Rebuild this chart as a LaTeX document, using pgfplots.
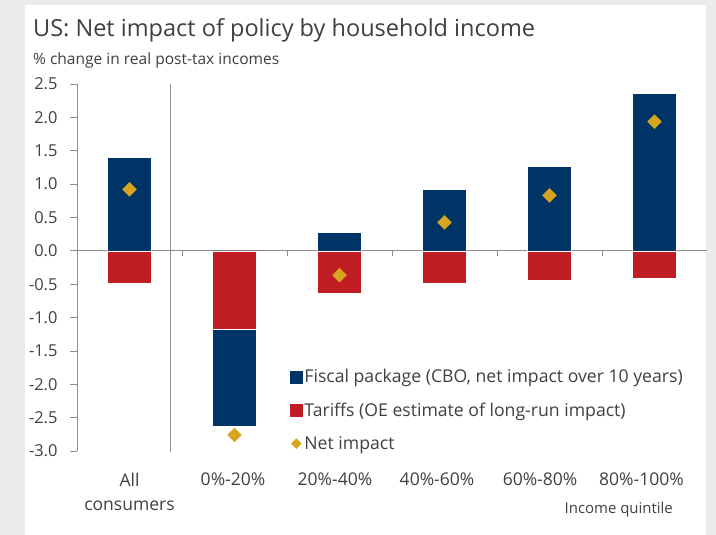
\documentclass[border=0pt]{standalone}
\usepackage{pgfplots}
\pgfplotsset{compat=1.18}
\usepackage{fontspec}
\setmainfont{Open Sans}
\definecolor{navy}{RGB}{0,51,102}
\definecolor{tred}{RGB}{192,28,36}
\definecolor{gold}{RGB}{214,164,30}
\definecolor{txt}{RGB}{64,64,64}
\definecolor{axgray}{RGB}{140,140,140}
\definecolor{bggray}{RGB}{235,235,235}
\begin{document}
\begin{tikzpicture}[x=1bp,y=1bp]
\fill[bggray] (0,0) rectangle (716,535);
\fill[white] (25,0) rectangle (706,530);
\node[anchor=base west, inner sep=0, text=txt, font=\fontsize{23.6}{28}\selectfont] at (33,498.3) {US: Net impact of policy by household income};
\node[anchor=base west, inner sep=0, text=txt, font=\fontsize{15.6}{18}\selectfont] at (33,470) {\% change in real post-tax incomes};
\begin{axis}[
  at={(77bp,84bp)}, anchor=south west,
  scale only axis, width=630bp, height=367bp,
  xmin=-0.5, xmax=5.5, ymin=-3, ymax=2.5,
  axis y line*=left, axis x line*=bottom,
  x axis line style={draw=none},
  y axis line style={axgray, line width=0.8pt},
  ytick={-3,-2.5,-2,-1.5,-1,-0.5,0,0.5,1,1.5,2,2.5},
  yticklabels={-3.0,-2.5,-2.0,-1.5,-1.0,-0.5,0.0,0.5,1.0,1.5,2.0,2.5},
  tick align=outside,
  major tick length=7bp,
  ytick style={axgray, line width=0.8pt},
  xtick={0,0.986,1.957,2.929,3.91,4.876},
  xticklabels={All\\consumers,0\%-20\%,20\%-40\%,40\%-60\%,60\%-80\%,80\%-100\%},
  xtick style={draw=none},
  xticklabel style={align=center, anchor=north, inner sep=0pt, yshift=-15bp, text=txt, font=\fontsize{17.6}{24.5}\selectfont},
  yticklabel style={text=txt, font=\fontsize{16.5}{18}\selectfont, xshift=-9bp},
  clip=false,
  legend style={draw=none, fill=none, at={(0.338,0.228)}, anchor=north west,
    font=\fontsize{17.7}{20}\selectfont, text=txt, row sep=14.5bp, inner sep=0pt,
    nodes={inner sep=2bp}},
  legend cell align=left,
]
\draw[axgray, line width=0.8pt] (axis cs:-0.5,0) -- (axis cs:5.5,0);
\pgfplotsinvokeforeach{0.5,1.5,2.5,3.5,4.5}{\draw[axgray, line width=0.8pt] (axis cs:#1,0) -- ++(0pt,-5bp);}
\draw[axgray, line width=0.8pt] (axis cs:0.39,2.5) -- (axis cs:0.39,-3.02);
\addplot[ybar, bar width=44bp, bar shift=0pt, fill=navy, draw=white, line width=0.3pt,
  legend image code/.code={\fill[navy] (0bp,-6bp) rectangle (12bp,6bp);}]
  coordinates {(0,1.40) (1,-2.63) (2,0.275) (3,0.92) (4,1.27) (5,2.36)};
\addlegendentry{Fiscal package (CBO, net impact over 10 years)}
\addplot[ybar, bar width=44bp, bar shift=0pt, fill=tred, draw=white, line width=0.3pt,
  legend image code/.code={\fill[tred] (0bp,-6bp) rectangle (12bp,6bp);}]
  coordinates {(0,-0.48) (1,-1.18) (2,-0.64) (3,-0.49) (4,-0.44) (5,-0.415)};
\addlegendentry{Tariffs (OE estimate of long-run impact)}
\addplot[only marks, mark=square*, mark size=4.9bp, mark options={rotate=45, fill=gold, draw=gold},
  legend image code/.code={\fill[gold] (1bp,0) -- (6bp,5bp) -- (11bp,0) -- (6bp,-5bp) -- cycle;}]
  coordinates {(0,0.92) (1,-2.76) (2,-0.365) (3,0.425) (4,0.83) (5,1.935)};
\addlegendentry{Net impact}
\end{axis}
\node[anchor=base east, inner sep=0, text=txt, font=\fontsize{15}{18}\selectfont] at (673,21) {Income quintile};
\pgfresetboundingbox
\useasboundingbox (0,0) rectangle (716,535);
\end{tikzpicture}
\end{document}
